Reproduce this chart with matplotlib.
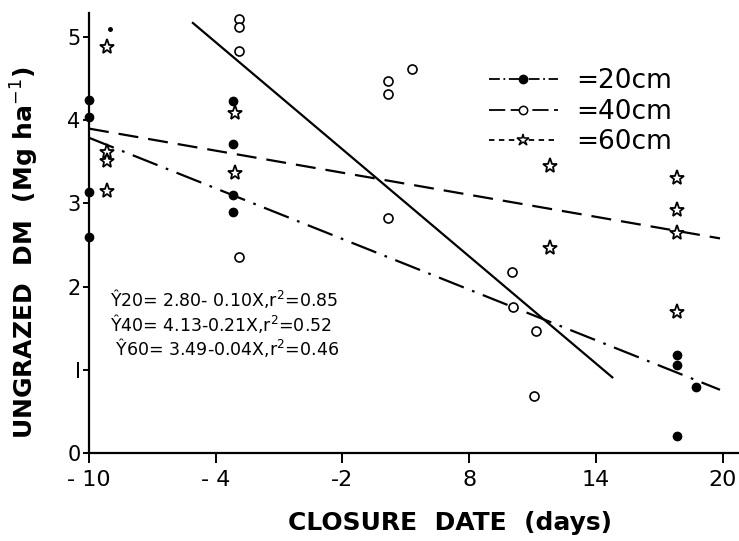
import matplotlib
matplotlib.use('Agg')
import matplotlib.pyplot as plt
from matplotlib.lines import Line2D

# tick positions are evenly spaced on the original figure, labels are the closure dates
tick_pos = [0, 1, 2, 3, 4, 5]
tick_labels = ['- 10', '- 4', '-2', '8', '14', '20']

# 20 cm (filled dots)
x20 = [0.0, 0.0, 0.0, 0.0, 1.14, 1.14, 1.14, 1.14, 4.64, 4.64, 4.64, 4.79]
y20 = [4.24, 4.04, 3.14, 2.60, 4.23, 3.71, 3.10, 2.90, 1.18, 1.06, 0.20, 0.79]
# small stray dot near the top left
xdot = [0.166]
ydot = [5.10]

# 40 cm (open circles)
x40 = [1.18, 1.18, 1.18, 1.18, 2.36, 2.36, 2.36, 2.55, 3.34, 3.35, 3.53, 3.51]
y40 = [5.22, 5.12, 4.83, 2.36, 4.47, 4.32, 2.83, 4.62, 2.18, 1.75, 1.47, 0.68]

# 60 cm (open stars)
x60 = [0.14, 0.14, 0.14, 0.14, 1.15, 1.15, 3.64, 3.64, 4.64, 4.64, 4.64, 4.64]
y60 = [4.88, 3.62, 3.51, 3.15, 4.09, 3.37, 3.45, 2.47, 3.31, 2.92, 2.64, 1.69]

# fitted regression lines (end points)
fit20_x = [0.0, 4.98]
fit20_y = [3.79, 0.76]
fit40_x = [0.82, 4.13]
fit40_y = [5.17, 0.91]
fit60_x = [0.0, 4.98]
fit60_y = [3.90, 2.58]

equations = [
    'Ŷ20= 2.80- 0.10X,r$^2$=0.85',
    'Ŷ40= 4.13-0.21X,r$^2$=0.52',
    ' Ŷ60= 3.49-0.04X,r$^2$=0.46',
]

fig = plt.figure(figsize=(7.39, 5.41), dpi=100)
ax = fig.add_axes((89 / 739, 1 - 453 / 541, 650 / 739, 440 / 541))

lw = 1.6
ax.plot(fit20_x, fit20_y, color='black', lw=lw, linestyle=(0, (12, 4, 1.2, 4)))
ax.plot(fit40_x, fit40_y, color='black', lw=lw, linestyle='-')
ax.plot(fit60_x, fit60_y, color='black', lw=lw, linestyle=(0, (9, 4.5)))

ax.plot(x20, y20, 'o', color='black', markersize=6, clip_on=False, zorder=4)
ax.plot(xdot, ydot, 'o', color='black', markersize=2.5, clip_on=False, zorder=4)
ax.plot(x40, y40, 'o', markerfacecolor='white', markeredgecolor='black',
        markersize=6.5, markeredgewidth=1.2, clip_on=False, zorder=4)
ax.plot(x60, y60, '*', markerfacecolor='white', markeredgecolor='black',
        markersize=11, markeredgewidth=1.3, clip_on=False, zorder=4)

ax.set_xlim(0, 5.13)
ax.set_ylim(0, 5.29)
ax.set_xticks(tick_pos)
ax.set_xticklabels(tick_labels)
ax.set_yticks([0, 1, 2, 3, 4, 5])
ax.set_yticklabels(['0', 'I', '2', '3', '4', '5'])

for side in ['top', 'right']:
    ax.spines[side].set_visible(False)
for side in ['left', 'bottom']:
    ax.spines[side].set_linewidth(1.6)

ax.tick_params(axis='x', direction='out', length=7, width=1.4, labelsize=16, pad=5)
ax.tick_params(axis='y', direction='out', length=4, width=1.4, labelsize=15, pad=2)

ax.set_xlabel('CLOSURE  DATE  (days)', fontsize=18, fontweight='bold')
ax.xaxis.set_label_coords(0.555, -0.16)
ax.xaxis.label.set_va('center')
ax.set_ylabel('UNGRAZED  DM  (Mg ha$^{-1}$)', fontsize=18, fontweight='bold')
ax.yaxis.set_label_coords(-0.098, 0.455)
ax.yaxis.label.set_va('center')

for i, eq in enumerate(equations):
    ax.text(0.032, 0.35 - i * 0.055, eq, transform=ax.transAxes, fontsize=12.5,
            va='center', ha='left')

handles = [
    Line2D([], [], color='black', lw=1.3, linestyle=(0, (6, 2, 1, 2)), marker='o',
           markersize=6, markerfacecolor='black'),
    Line2D([], [], color='black', lw=1.3, linestyle=(0, (9, 3)), marker='o',
           markersize=6, markerfacecolor='white', markeredgewidth=1.1),
    Line2D([], [], color='black', lw=1.3, linestyle=(0, (3, 2.5)), marker='*',
           markersize=9, markerfacecolor='white', markeredgewidth=1.1),
]
ax.legend(handles, ['=20cm', '=40cm', '=60cm'], loc='upper left',
          bbox_to_anchor=(0.595, 0.905), frameon=False, fontsize=19,
          handlelength=2.6, handletextpad=0.7, labelspacing=0.18,
          borderpad=0, numpoints=1)

fig.savefig('out.png', dpi=100)
